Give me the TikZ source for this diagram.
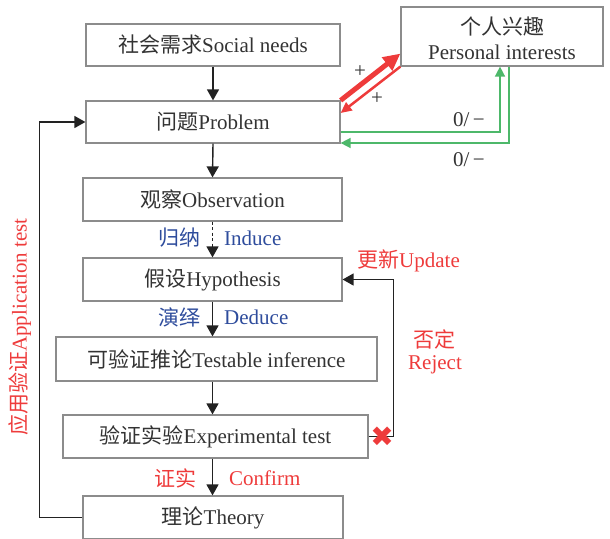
\documentclass[tikz,border=0pt]{standalone}
\usepackage{fontspec}
\setmainfont{Liberation Serif}
\newfontfamily\cjk{Noto Sans CJK SC}
\newfontfamily\symfont{DejaVu Sans}
\usetikzlibrary{arrows.meta,calc}
\newcommand\zh[1]{{\cjk #1}}

\definecolor{txt}{HTML}{333333}
\definecolor{boxline}{HTML}{8C8C8C}
\definecolor{arr}{HTML}{222222}
\definecolor{redc}{HTML}{EE3B3B}
\definecolor{bluec}{HTML}{2E4C9C}
\definecolor{greenc}{HTML}{4DB86A}

\begin{document}
\begin{tikzpicture}[x=1pt,y=-1pt,
  box/.style={draw=boxline,line width=1.2pt,fill=white,inner sep=0pt,
    text=txt,align=center,font=\fontsize{21}{26}\selectfont},
  flow/.style={draw=arr,line width=1.4pt,-{Triangle[length=11pt,width=12pt]}},
  lbl/.style={font=\fontsize{21}{24}\selectfont,inner sep=0pt},
  gline/.style={draw=greenc,line width=1.5pt,-{Triangle[length=10pt,width=10pt]}},
]
\useasboundingbox (0,0) rectangle (610,538);

% main chain of boxes
\node[box,minimum width=254pt,minimum height=42pt] (soc)  at (213,45)    {\zh{社会需求}Social needs};
\node[box,minimum width=202pt,minimum height=59pt] (pers) at (502,36.5)  {};
\node[lbl,text=txt] (pers1) at (502,26.5) {\zh{个人兴趣}};
\node[lbl,text=txt] (pers2) at (502,52.5) {Personal interests};
\node[box,minimum width=254pt,minimum height=42pt] (prob) at (213,122)   {\zh{问题}Problem};
\node[box,minimum width=259pt,minimum height=43pt] (obs)  at (212.5,199.5) {\zh{观察}Observation};
\node[box,minimum width=259pt,minimum height=43pt] (hyp)  at (212.5,279.5) {\zh{假设}Hypothesis};
\node[box,minimum width=321pt,minimum height=44pt] (test) at (216.5,359) {\zh{可验证推论}Testable inference};
\node[box,minimum width=305pt,minimum height=43pt] (exp)  at (215.5,436.5) {\zh{验证实验}Experimental test};
\node[box,minimum width=260pt,minimum height=43pt] (theo) at (213,517.5) {\zh{理论}Theory};

% downward flow
\draw[flow] (soc.south) -- (prob.north);
\draw[flow] (prob.south) -- (obs.south |- obs.north);
\draw[flow,dash pattern=on 3pt off 2.5pt] (obs.south) -- (hyp.north);
\draw[flow] (hyp.south) -- (hyp.south |- test.north);
\draw[flow] (hyp.south |- test.south) -- (hyp.south |- exp.north);
\draw[flow] (hyp.south |- exp.south) -- (hyp.south |- theo.north);

% feedback loops
\draw[flow] (theo.west) -- ++(-43,0) |- (prob.west);
\draw[flow] (exp.east) -- ++(25,0) |- (hyp.east);

% problem <-> personal interests
\draw[draw=redc,line width=5pt,-{Triangle[length=17pt,width=16pt]}]
  (prob.north east) -- ($(pers.south west)+(0,-13)$);
\draw[draw=redc,line width=2.5pt,-{Triangle[length=11pt,width=10pt]}]
  (pers.south west) -- ($(prob.east)+(0,-9)$);
\node[lbl,text=txt] (plus1) at (360,72) {+};
\node[lbl,text=txt] (plus2) at (377,99) {+};

\coordinate (ga) at (500,132);
\coordinate (gb) at (509,143);
\draw[gline] (prob.east |- ga) -- (ga) -- (ga |- pers.south);
\draw[gline] (gb |- pers.south) -- (gb) -- (prob.east |- gb);
\node[lbl,text=txt] (z1) at (469,120) {0/\,−};
\node[lbl,text=txt] (z2) at (469,160) {0/\,−};

% step labels
\node[lbl,text=bluec,anchor=east] (ind1) at (201,238) {\zh{归纳}};
\node[lbl,text=bluec,anchor=west] (ind2) at (224,238) {Induce};
\node[lbl,text=bluec,anchor=east] (ded1) at (201,317) {\zh{演绎}};
\node[lbl,text=bluec,anchor=west] (ded2) at (224,317) {Deduce};
\node[lbl,text=redc,anchor=east] (con1) at (197,478) {\zh{证实}};
\node[lbl,text=redc,anchor=west] (con2) at (229,478) {Confirm};
\node[lbl,text=redc,anchor=west] (upd) at (357,261) {\zh{更新}Update};
\node[lbl,text=redc] (rej1) at (434,339) {\zh{否定}};
\node[lbl,text=redc] (rej2) at (435,365) {Reject};
\node[inner sep=0pt,text=redc,font=\symfont\fontsize{28}{28}\selectfont] (cross) at (382,437) {✖};
\node[lbl,text=redc,rotate=90] (app) at (20,327) {\zh{应用验证}Application test};
\end{tikzpicture}
\end{document}
